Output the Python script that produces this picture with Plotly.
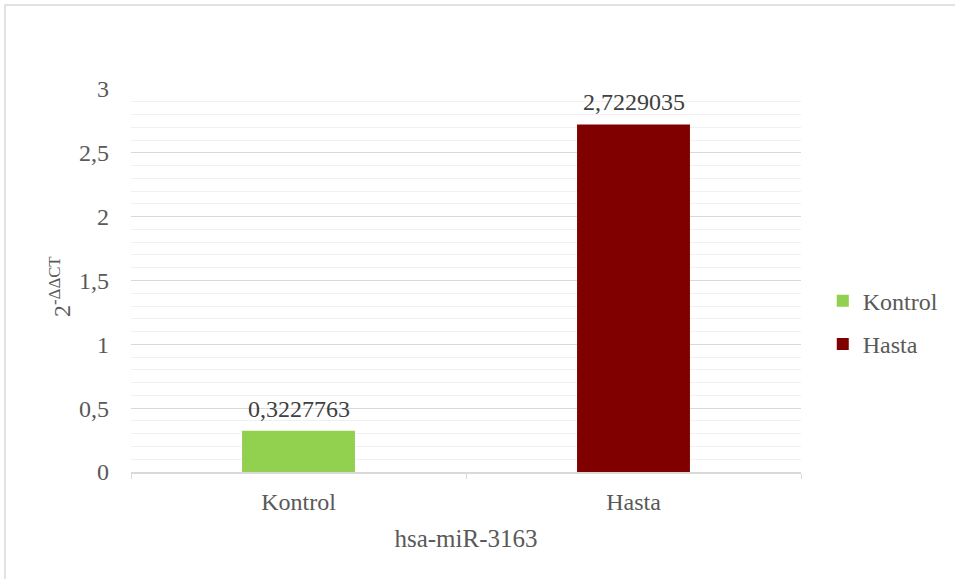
import plotly.graph_objects as go

# Relative expression of hsa-miR-3163 by group
groups = ["Kontrol", "Hasta"]
values = [0.3227763, 2.7229035]
colors = ["#92d050", "#800000"]
y_ticks = [0, 0.5, 1, 1.5, 2, 2.5, 3]
y_tick_labels = ["0", "0,5", "1", "1,5", "2", "2,5", "3"]

FONT = "Times New Roman, Liberation Serif, Tinos, DejaVu Serif, serif"
TEXT = "#595959"
SIZE = 24

fig = go.Figure()
for g, v, c in zip(groups, values, colors):
    fig.add_trace(go.Bar(
        x=[g], y=[v], name=g, legendgroup=g, marker=dict(color=c, line=dict(width=0)),
        width=0.337,
    ))
    # value label above each bar
    fig.add_annotation(x=g, y=v, text=f"{v:.7f}".replace(".", ","),
                       showarrow=False, yanchor="bottom", yshift=7,
                       font=dict(family=FONT, size=SIZE, color="#404040"))

# y-axis title, drawn rotated beside the tick labels
fig.add_annotation(xref="paper", yref="paper", x=(60 - 131) / 670, y=(472 - 287) / 383,
                   text="2<sup>-ΔΔCT</sup>", textangle=-90, showarrow=False,
                   xanchor="center", yanchor="middle",
                   font=dict(family=FONT, size=SIZE, color=TEXT))

fig.update_layout(
    template="none",
    width=955, height=579,
    margin=dict(l=131, r=154, t=89, b=107, autoexpand=False),
    paper_bgcolor="white", plot_bgcolor="white",
    barmode="overlay",
    font=dict(family=FONT, size=SIZE, color=TEXT),
    showlegend=True,
    legend=dict(x=1.0325, y=0.39, xanchor="left", yanchor="middle",
                font=dict(family=FONT, size=SIZE, color=TEXT),
                itemsizing="constant", tracegroupgap=9, bgcolor="rgba(0,0,0,0)"),
    xaxis=dict(
        categoryorder="array", categoryarray=groups,
        showgrid=False, zeroline=False,
        showline=True, linecolor="#d9d9d9", linewidth=1.5,
        ticks="outside", tickson="boundaries", ticklen=5, tickcolor="#d9d9d9",
        ticklabelstandoff=7,
        tickfont=dict(family=FONT, size=SIZE, color=TEXT),
        title=dict(text="hsa-miR-3163", font=dict(family=FONT, size=25, color=TEXT), standoff=16),
        fixedrange=True,
    ),
    yaxis=dict(
        range=[0, 3], tickvals=y_ticks, ticktext=y_tick_labels,
        showgrid=True, gridcolor="#d9d9d9", gridwidth=1.2,
        minor=dict(dtick=0.1, showgrid=True, gridcolor="#f0f0f0", gridwidth=1, ticks=""),
        zeroline=False, showline=False, ticks="",
        ticklabelstandoff=21,
        tickfont=dict(family=FONT, size=SIZE, color=TEXT),
        fixedrange=True,
    ),
)

# Outer chart frame
fig.add_shape(type="rect", xref="paper", yref="paper",
              x0=(5 - 131) / 670, x1=1.5, y0=-0.5, y1=(472 - 5) / 383,
              line=dict(color="#d9d9d9", width=1.5), fillcolor="rgba(0,0,0,0)", layer="below")

fig.write_html("out.html")
